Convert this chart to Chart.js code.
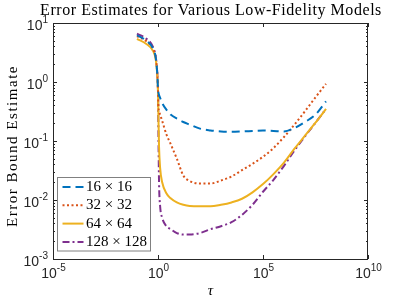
<!DOCTYPE html>
<html>
<head>
<meta charset="utf-8">
<script src="https://cdn.jsdelivr.net/npm/chart.js@4.4.1/dist/chart.umd.min.js"></script>
<style>
    html, body { margin: 0; padding: 0; background: #fff; }
    canvas { display: block; }
</style>
</head>
<body>
<canvas id="chart" width="407" height="305"></canvas>
<script>
/* ── Values ─────────────────────────────────────────────── */
const TAU = [0.1, 0.28, 0.6, 0.79, 0.93, 1, 1.05, 1.12, 1.26, 1.58, 2.5, 4, 7.9, 16, 32,
             100, 316, 1e3, 3.16e3, 1e4, 3.16e4, 1e5, 3.16e5, 1e6, 3.16e6, 1e7, 3.16e7, 1e8];

const ERR_16  = [6.2, 5.0, 3.6, 2.5, 1.32, 0.76, 0.66, 0.6, 0.54, 0.44, 0.34, 0.28, 0.24, 0.21,
                 0.19, 0.162, 0.151, 0.145, 0.143, 0.145, 0.148, 0.151, 0.148, 0.145, 0.166, 0.21, 0.28, 0.47];
const ERR_32  = [6.0, 4.9, 3.55, 2.5, 1.32, 0.72, 0.38, 0.32, 0.28, 0.22, 0.13, 0.089, 0.05, 0.026,
                 0.021, 0.019, 0.019, 0.0214, 0.025, 0.032, 0.041, 0.054, 0.076, 0.117, 0.19, 0.32, 0.55, 0.93];
const ERR_64  = [5.4, 4.4, 3.3, 2.35, 1.26, 0.69, 0.25, 0.08, 0.035, 0.02, 0.013, 0.0107, 0.0091, 0.0083,
                 0.0079, 0.0078, 0.0078, 0.0083, 0.0091, 0.0105, 0.0135, 0.0186, 0.0275, 0.043, 0.074, 0.123, 0.204, 0.35];
const ERR_128 = [6.6, 5.4, 3.8, 2.6, 1.35, 0.69, 0.126, 0.02, 0.0079, 0.005, 0.0036, 0.0032, 0.00275, 0.0026,
                 0.0026, 0.00275, 0.0032, 0.0036, 0.0042, 0.0056, 0.0083, 0.0138, 0.022, 0.038, 0.069, 0.12, 0.204, 0.35];

const LABELS     = ['16 × 16', '32 × 32', '64 × 64', '128 × 128'];
const X_TICK_EXP = [-5, 0, 5, 10];
const Y_TICK_EXP = [-3, -2, -1, 0, 1];
const Y_MINOR    = [2, 3, 4, 5, 6, 7, 8, 9];

/* ── Styles ─────────────────────────────────────────────── */
const AXIS_COLOR = '#262626';
const SANS  = '"Liberation Sans", Arial, sans-serif';
const SERIF = '"Liberation Serif", "Times New Roman", serif';

const toPoints = ys => TAU.map((t, i) => ({ x: t, y: ys[i] }));

function drawPow(ctx, exp, x, y, align, supLift) {
    const base = '10', sup = String(exp);
    ctx.font = '14px ' + SANS;
    const wb = ctx.measureText(base).width;
    ctx.font = '10px ' + SANS;
    const ws = ctx.measureText(sup).width;
    const left = align === 'right' ? x - wb - ws : x - (wb + ws) / 2;
    ctx.textAlign = 'left';
    ctx.textBaseline = 'middle';
    ctx.font = '14px ' + SANS;
    ctx.fillText(base, left, y);
    ctx.font = '10px ' + SANS;
    ctx.fillText(sup, left + wb, y - supLift);
}

function fitText(ctx, text, target) {
    ctx.letterSpacing = '0px';
    const w = ctx.measureText(text).width;
    ctx.letterSpacing = ((target - w) / text.length).toFixed(2) + 'px';
}

/* ── MATLAB-style box, ticks, labels and legend ─────────── */
const matlabAxes = {
    id: 'matlabAxes',
    afterDraw(chart) {
        const { ctx, chartArea: a, scales: { x, y } } = chart;
        ctx.save();
        ctx.strokeStyle = AXIS_COLOR;
        ctx.fillStyle = AXIS_COLOR;
        ctx.lineWidth = 1;

        // frame
        ctx.strokeRect(a.left + 0.5, a.top + 0.5, a.right - a.left - 1, a.bottom - a.top);

        // x ticks
        X_TICK_EXP.forEach(e => {
            const px = Math.round(x.getPixelForValue(Math.pow(10, e))) + 0.5;
            ctx.beginPath();
            ctx.moveTo(px, a.bottom); ctx.lineTo(px, a.bottom - 4);
            ctx.moveTo(px, a.top);    ctx.lineTo(px, a.top + 4);
            ctx.stroke();
            drawPow(ctx, e, px, a.bottom + 15, 'center', 5.5);
        });

        // y ticks
        Y_TICK_EXP.forEach((e, i) => {
            const py = Math.round(y.getPixelForValue(Math.pow(10, e))) + 0.5;
            ctx.beginPath();
            ctx.moveTo(a.left, py);  ctx.lineTo(a.left + 4, py);
            ctx.moveTo(a.right, py); ctx.lineTo(a.right - 4, py);
            ctx.stroke();
            drawPow(ctx, e, 48, py + 3, 'right', 6.5);
            if (i < Y_TICK_EXP.length - 1) {
                Y_MINOR.forEach(m => {
                    const pm = Math.round(y.getPixelForValue(m * Math.pow(10, e))) + 0.5;
                    ctx.beginPath();
                    ctx.moveTo(a.left, pm);  ctx.lineTo(a.left + 2, pm);
                    ctx.moveTo(a.right, pm); ctx.lineTo(a.right - 2, pm);
                    ctx.stroke();
                });
            }
        });

        // title and axis labels
        ctx.fillStyle = '#000';
        ctx.textAlign = 'center';
        ctx.textBaseline = 'alphabetic';
        ctx.font = '16px ' + SERIF;
        const title = 'Error Estimates for Various Low-Fidelity Models';
        fitText(ctx, title, 342);
        ctx.fillText(title, 211, 15);

        ctx.save();
        ctx.translate(17, 146);
        ctx.rotate(-Math.PI / 2);
        ctx.font = '15px ' + SERIF;
        const ylab = 'Error Bound Estimate';
        fitText(ctx, ylab, 162);
        ctx.fillText(ylab, 0, 0);
        ctx.restore();

        ctx.letterSpacing = '0px';
        ctx.font = 'italic 15px ' + SERIF;
        ctx.textBaseline = 'middle';
        ctx.fillText('τ', (a.left + a.right) / 2, 291);

        // legend
        ctx.fillStyle = '#fff';
        ctx.fillRect(57.5, 177.5, 93, 73.5);
        ctx.strokeStyle = '#808080';
        ctx.strokeRect(57.5, 177.5, 93, 73.5);
        ctx.font = '15px ' + SERIF;
        ctx.textAlign = 'left';
        chart.data.datasets.forEach((ds, i) => {
            const ly = 187 + i * 18.3;
            ctx.strokeStyle = ds.borderColor;
            ctx.lineWidth = ds.borderWidth;
            ctx.setLineDash(ds.borderDash || []);
            ctx.beginPath();
            ctx.moveTo(62.5, ly); ctx.lineTo(83.5, ly);
            ctx.stroke();
            ctx.setLineDash([]);
            ctx.fillStyle = '#000';
            ctx.fillText(ds.label, 86, ly);
        });
        ctx.restore();
    },
};

new Chart(document.getElementById('chart'), {
    type : 'line',
    data : {
        datasets : [
            { label: LABELS[0], data: toPoints(ERR_16),  borderColor: '#0072BD', borderDash: [8, 5] },
            { label: LABELS[1], data: toPoints(ERR_32),  borderColor: '#D95319', borderDash: [2, 2.5] },
            { label: LABELS[2], data: toPoints(ERR_64),  borderColor: '#EDB120' },
            { label: LABELS[3], data: toPoints(ERR_128), borderColor: '#7E2F8E', borderDash: [7, 3, 2, 3] },
        ].map(d => ({ ...d, borderWidth: 2, pointRadius: 0, fill: false,
                      cubicInterpolationMode: 'monotone' })),
    },
    options : {
        responsive       : false,
        animation        : false,
        devicePixelRatio : 1,
        layout  : { padding: { left: 53, right: 39, top: 23, bottom: 46 } },
        plugins : { legend: { display: false }, tooltip: { enabled: false } },
        scales  : {
            x : { type: 'logarithmic', min: 1e-5, max: 1e10, display: false },
            y : { type: 'logarithmic', min: 1e-3, max: 10,   display: false },
        },
    },
    plugins : [matlabAxes],
});
</script>
</body>
</html>
